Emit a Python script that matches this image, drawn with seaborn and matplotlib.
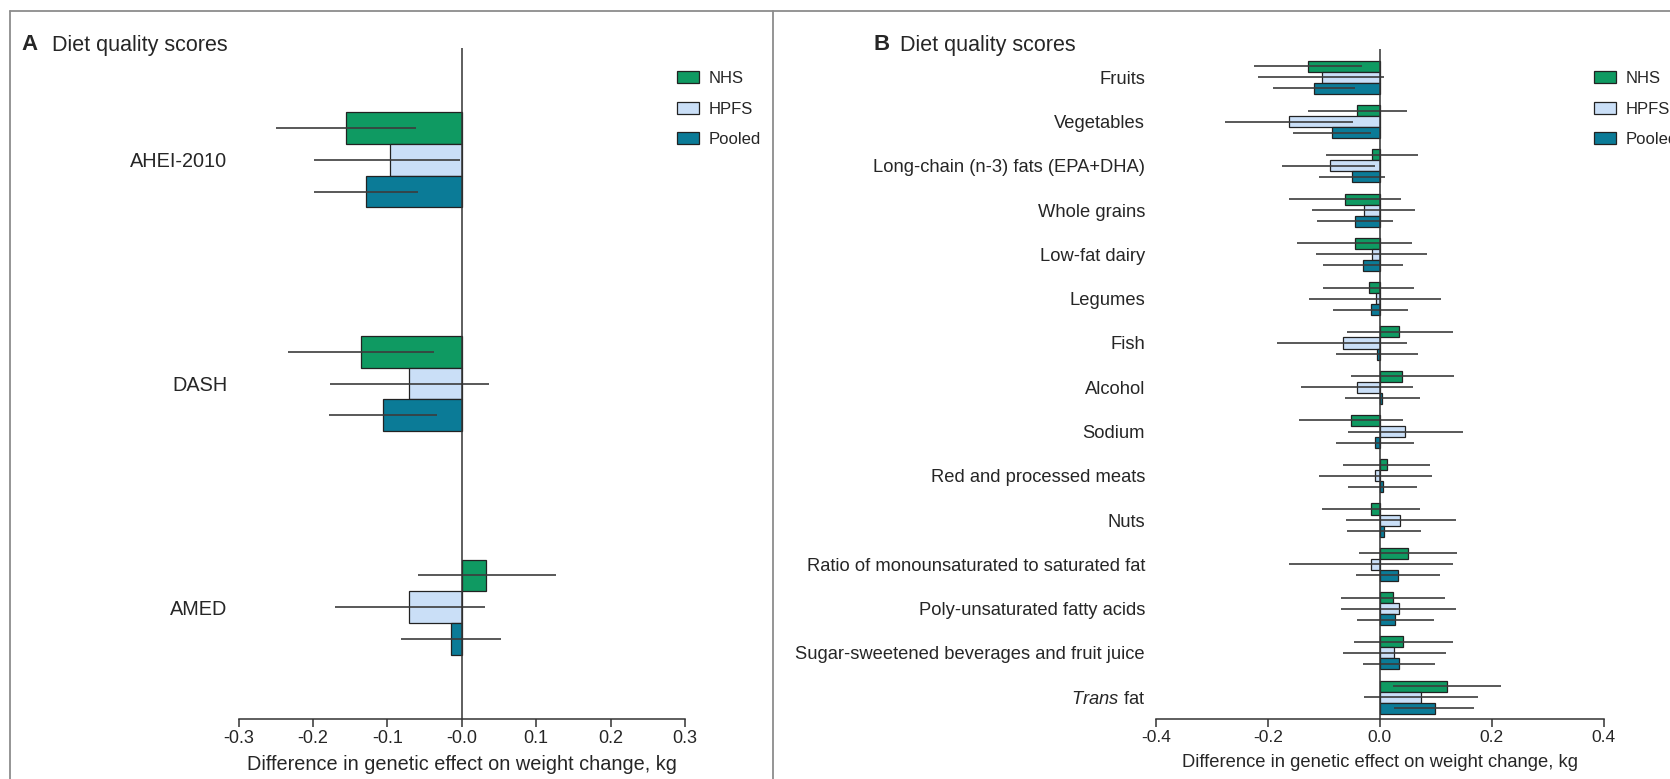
import matplotlib
matplotlib.use("Agg")
import matplotlib.pyplot as plt
import seaborn as sns
import pandas as pd
from matplotlib.lines import Line2D
from matplotlib.patches import Patch

cohorts = ["NHS", "HPFS", "Pooled"]
colors = ["#0f9a62", "#cadff7", "#0b7b97"]

# panel A: diet quality scores
scores_a = ["AHEI-2010", "DASH", "AMED"]
nhs_a = [-0.156, -0.136, 0.033]
nhs_a_lo = [-0.250, -0.234, -0.059]
nhs_a_hi = [-0.062, -0.037, 0.127]
hpfs_a = [-0.096, -0.071, -0.071]
hpfs_a_lo = [-0.199, -0.177, -0.170]
hpfs_a_hi = [-0.003, 0.036, 0.031]
pooled_a = [-0.129, -0.106, -0.014]
pooled_a_lo = [-0.198, -0.178, -0.082]
pooled_a_hi = [-0.059, -0.033, 0.053]
ticks_a = [-0.3, -0.2, -0.1, 0.0, 0.1, 0.2, 0.3]
ticklabels_a = ["-0.3", "-0.2", "-0.1", "-0.0", "0.1", "0.2", "0.3"]

# panel B: score components
foods_b = ["Fruits", "Vegetables", "Long-chain (n-3) fats (EPA+DHA)", "Whole grains",
           "Low-fat dairy", "Legumes", "Fish", "Alcohol", "Sodium",
           "Red and processed meats", "Nuts",
           "Ratio of monounsaturated to saturated fat", "Poly-unsaturated fatty acids",
           "Sugar-sweetened beverages and fruit juice", "Trans fat"]
foodlabels_b = foods_b[:-1] + [r"$\it{Trans}$ fat"]
nhs_b = [-0.128, -0.040, -0.014, -0.062, -0.045, -0.020, 0.035, 0.040, -0.052, 0.012,
         -0.016, 0.050, 0.024, 0.042, 0.121]
nhs_b_lo = [-0.224, -0.129, -0.096, -0.163, -0.148, -0.101, -0.059, -0.051, -0.145, -0.065,
            -0.103, -0.038, -0.069, -0.047, 0.023]
nhs_b_hi = [-0.032, 0.048, 0.068, 0.038, 0.057, 0.062, 0.130, 0.132, 0.041, 0.089,
            0.072, 0.138, 0.116, 0.130, 0.217]
hpfs_b = [-0.104, -0.163, -0.089, -0.029, -0.014, -0.007, -0.066, -0.040, 0.045, -0.008,
          0.036, -0.015, 0.034, 0.026, 0.073]
hpfs_b_lo = [-0.217, -0.277, -0.174, -0.121, -0.114, -0.126, -0.183, -0.140, -0.057, -0.109,
             -0.061, -0.162, -0.070, -0.065, -0.029]
hpfs_b_hi = [0.008, -0.048, -0.009, 0.063, 0.084, 0.110, 0.049, 0.060, 0.148, 0.093,
             0.136, 0.131, 0.137, 0.119, 0.175]
pooled_b = [-0.117, -0.085, -0.049, -0.044, -0.030, -0.016, -0.005, 0.004, -0.008, 0.005,
            0.007, 0.033, 0.028, 0.035, 0.098]
pooled_b_lo = [-0.190, -0.155, -0.109, -0.113, -0.101, -0.083, -0.078, -0.063, -0.078, -0.057,
               -0.059, -0.042, -0.040, -0.030, 0.026]
pooled_b_hi = [-0.044, -0.016, 0.010, 0.024, 0.042, 0.051, 0.068, 0.071, 0.061, 0.066,
               0.073, 0.108, 0.097, 0.098, 0.168]
ticks_b = [-0.4, -0.2, 0.0, 0.2, 0.4]
ticklabels_b = ["-0.4", "-0.2", "0.0", "0.2", "0.4"]

sns.set_style("white")
plt.rcParams["font.family"] = ["Liberation Sans", "DejaVu Sans"]
plt.rcParams["mathtext.fontset"] = "custom"
plt.rcParams["mathtext.it"] = "Liberation Sans:italic"
plt.rcParams["mathtext.rm"] = "Liberation Sans"

W, H = 1670, 779
fig = plt.figure(figsize=(W / 100, H / 100), dpi=100)


def draw_panel(ax, cats, labels, est, lo, hi, width, ylim, ticks, ticklabels, fs, tfs):
    df = pd.DataFrame({
        "item": cats * 3,
        "cohort": [c for c in cohorts for _ in cats],
        "effect": est[0] + est[1] + est[2],
    })
    sns.barplot(data=df, x="effect", y="item", hue="cohort", order=cats,
                hue_order=cohorts, palette=colors, saturation=1, orient="h", width=width,
                errorbar=None, edgecolor="#222222", linewidth=0.9, legend=False,
                ax=ax, zorder=2)
    for bars, l, h in zip(ax.containers, lo, hi):
        ys = [p.get_y() + p.get_height() / 2 for p in bars]
        ax.hlines(ys, l, h, color="#3c3c3c", lw=1.2, zorder=3)
    ax.axvline(0, color="#333333", lw=1.1, zorder=4)
    ax.set_xlim(ticks[0], ticks[-1])
    ax.set_ylim(*ylim)
    ax.set_xticks(ticks)
    ax.set_xticklabels(ticklabels, fontsize=tfs)
    ax.set_yticks(range(len(cats)))
    ax.set_yticklabels(labels, fontsize=fs)
    ax.set_ylabel("")
    ax.set_xlabel("Difference in genetic effect on weight change, kg", fontsize=fs, labelpad=6)
    for s in ["left", "top", "right"]:
        ax.spines[s].set_visible(False)
    ax.spines["bottom"].set_color("#333333")
    ax.spines["bottom"].set_linewidth(1.1)
    ax.tick_params(axis="x", bottom=True, direction="out", length=6, width=1.1,
                   color="#333333", pad=2)
    ax.tick_params(axis="y", left=False, length=0, pad=8)
    ax.set_facecolor("none")


axA = fig.add_axes([238.6 / W, 1 - 719 / H, 446.3 / W, 671 / H])
draw_panel(axA, scores_a, scores_a,
           [nhs_a, hpfs_a, pooled_a], [nhs_a_lo, hpfs_a_lo, pooled_a_lo],
           [nhs_a_hi, hpfs_a_hi, pooled_a_hi],
           0.426, (2.5, -0.5), ticks_a, ticklabels_a, 14.3, 13)

axB = fig.add_axes([1156 / W, 1 - 719.3 / H, 447.6 / W, 670.3 / H])
draw_panel(axB, foods_b, foodlabels_b,
           [nhs_b, hpfs_b, pooled_b], [nhs_b_lo, hpfs_b_lo, pooled_b_lo],
           [nhs_b_hi, hpfs_b_hi, pooled_b_hi],
           0.75, (14.5, -0.64), ticks_b, ticklabels_b, 13.2, 12.5)

handles = [Patch(facecolor=c, edgecolor="#222222", lw=0.9) for c in colors]
for x0 in (677, 1594):
    fig.legend(handles, cohorts, loc="upper left", bbox_to_anchor=(x0 / W, 1 - 71 / H),
               frameon=False, fontsize=12, handlelength=1.3, handleheight=0.75,
               handletextpad=0.6, labelspacing=0.93, borderpad=0, borderaxespad=0)

# panel titles
for xl, xt, letter in ((21, 52, "A"), (874, 900, "B")):
    fig.text(xl / W, 1 - 45 / H, letter, fontsize=16, fontweight="bold", va="center")
    fig.text(xt / W, 1 - 45 / H, "Diet quality scores", fontsize=15.5, va="center")

# outer frame and divider
frame = dict(color="#8c8c8c", lw=1.3, transform=fig.transFigure)
fig.add_artist(Line2D([9.5 / W, 1], [1 - 10.5 / H, 1 - 10.5 / H], **frame))
fig.add_artist(Line2D([9.5 / W, 9.5 / W], [0, 1 - 10.5 / H], **frame))
fig.add_artist(Line2D([773 / W, 773 / W], [0, 1 - 10.5 / H], **frame))

fig.savefig("out.png", dpi=100)
